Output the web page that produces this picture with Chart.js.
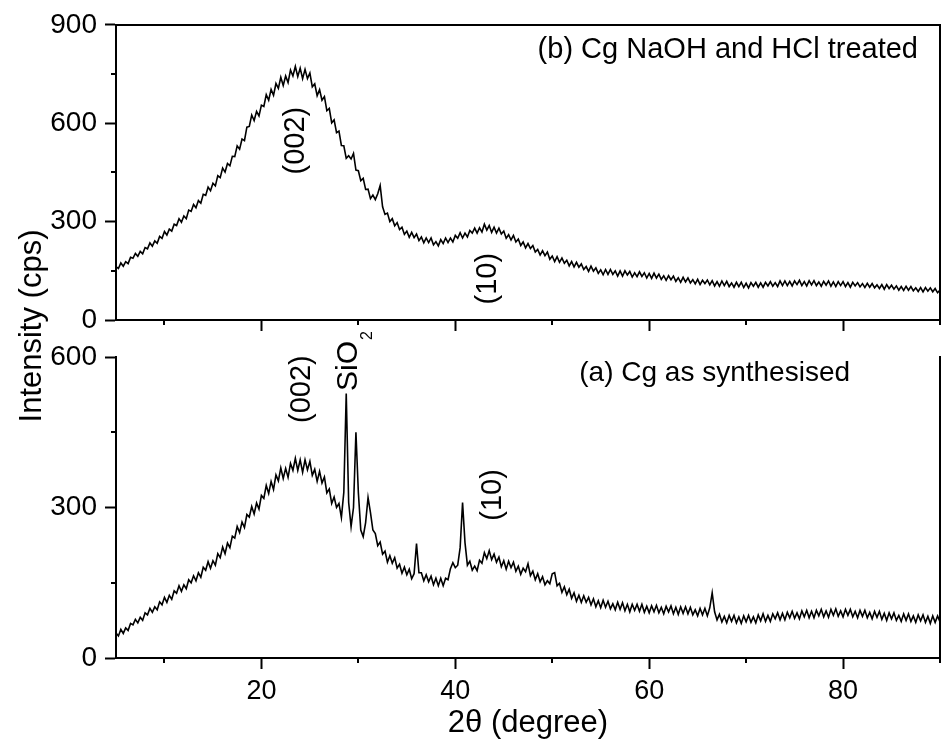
<!DOCTYPE html>
<html>
<head>
<meta charset="utf-8">
<script src="https://cdn.jsdelivr.net/npm/chart.js@4.4.1/dist/chart.umd.min.js"></script>
<style>
html,body{margin:0;padding:0;background:#fff;}
#wrap{position:relative;width:948px;height:741px;overflow:hidden;background:#fff;}
#wrap canvas{position:absolute;left:0;top:0;}
</style>
</head>
<body>
<div id="wrap">
<canvas id="cBottom" width="948" height="741"></canvas>
<canvas id="cTop" width="948" height="741"></canvas>
</div>
<script>
// ---- data (2θ sampled every 0.25° from 5° to 90°) ----
const angleStart = 5;
const angleStep = 0.25;

// (b) Cg NaOH and HCl treated  (top panel), one row per degree
const intensityB = [
163,157,174,164, 178,172,191,188, 203,194,209,202, 221,217,235,225, 241,234,255,249,
270,259,277,271, 292,288,309,298, 317,309,335,331, 352,342,364,356, 383,380,405,394,
417,409,440,434, 463,451,477,470, 499,498,531,521, 552,547,588,590, 625,608,636,622,
655,651,687,670, 703,685,721,706, 740,715,744,724, 762,744,773,742, 768,736,764,736,
753,711,720,684, 702,670,681,638, 645,601,610,571, 576,532,531,493, 501,491,508,457,
455,425,432,398, 399,370,381,367, 385,410,345,322, 326,300,309,287, 297,276,283,261,
271,252,267,251, 262,242,253,235, 250,236,250,229, 239,226,245,233, 250,236,250,238,
258,249,266,250, 265,253,273,265, 280,265,281,268, 292,274,288,267, 283,265,280,262,
271,249,260,244, 258,238,247,227, 238,220,233,218, 227,207,215,198, 211,196,207,185,
195,178,193,176, 189,173,182,165, 178,162,176,161, 171,154,163,148, 164,149,159,142,
153,138,154,139, 154,139,150,134, 150,134,150,137, 148,131,144,132, 147,133,144,128,
142,127,143,128, 140,124,135,121, 135,123,134,118, 129,115,130,116, 128,113,123,110,
124,108,121,111, 122,107,120,104, 117,103,119,105, 118,102,113,100, 115,102,115,99,
112,98,114,103, 115,100,113,100, 115,104,117,103, 114,102,119,105, 119,105,118,104,
119,108,121,105, 117,104,120,107, 120,105,116,103, 118,106,119,103, 116,102,117,105,
117,102,114,100, 115,104,114,101, 111,99,112,100, 111,98,107,96, 108,94,108,96,
106,94,104,91, 102,90,103,91, 102,89,98,87, 99,86,99,88, 98,86,96,83,
91
];

// (a) Cg as synthesised  (bottom panel), one row per degree
const intensityA = [
50,44,57,49, 60,55,69,66, 77,70,81,75, 90,86,99,91, 102,96,112,106,
121,111,125,117, 134,129,144,133, 146,138,156,150, 164,154,170,161, 181,175,192,179,
194,185,208,200, 221,208,229,220, 243,239,262,250, 271,260,286,281, 302,287,309,297,
324,318,344,328, 352,336,365,353, 379,358,378,360, 388,374,398,374, 395,370,395,375,
392,364,376,352, 372,349,361,329, 337,308,321,300, 308,280,330,527, 310,262,300,450,
330,255,242,270, 320,290,255,248, 224,231,207,213, 191,204,189,200, 179,187,169,181,
166,177,158,168, 228,170,170,154, 166,152,163,146, 159,144,159,144, 159,156,178,190,
180,185,220,310, 230,185,193,175, 183,174,195,189, 210,198,214,196, 207,191,201,182,
194,177,193,180, 191,173,183,167, 179,172,188,164, 173,156,168,152, 162,146,154,148,
168,170,144,149, 131,142,126,137, 119,130,113,125, 111,124,111,121, 106,118,102,114,
100,115,101,113, 98,108,96,111, 97,110,94,107, 92,107,95,107, 93,107,91,103,
90,104,92,105, 90,101,88,103, 92,104,88,101, 87,102,89,102, 88,101,86,96,
84,99,86,99, 84,100,130,92, 76,87,72,83, 70,85,73,85, 70,82,69,84,
72,85,71,82, 70,86,74,88, 73,85,73,88, 78,90,76,89, 76,91,80,93,
79,90,78,94, 82,95,80,93, 80,95,84,97, 82,94,81,97, 85,98,83,94,
82,97,85,97, 82,93,80,95, 83,95,80,91, 78,93,81,93, 77,89,75,90,
78,90,75,85, 73,88,75,88, 73,84,71,86, 74,86,71,83, 69,84,71,84,
72
];

const xMajorTicks = [20, 40, 60, 80];
const xMinorTicks = [10, 30, 50, 70, 90];
const yMajorTicksB = [0, 300, 600, 900];
const yMinorTicksB = [150, 450, 750];
const yMajorTicksA = [0, 300, 600];
const yMinorTicksA = [150, 450];

const labelB = '(b) Cg NaOH and HCl treated';
const labelA = '(a) Cg as synthesised';
const xTitle = '2\u03B8 (degree)';
const yTitle = 'Intensity (cps)';

// ---- helpers ----
const FONT = '"Liberation Sans", Arial, Helvetica, sans-serif';
const toPoints = arr => arr.map((v, i) => ({x: angleStart + i * angleStep, y: v}));
const setTicks = list => (s => { s.ticks = list.map(v => ({value: v})); });

const minorTicks = {
  id: 'minorTicks',
  afterDraw(chart, args, opts) {
    const ctx = chart.ctx, a = chart.chartArea;
    const xs = chart.scales.x, ys = chart.scales.y;
    ctx.save();
    ctx.strokeStyle = '#000';
    ctx.lineWidth = 2;
    (opts.x || []).forEach(v => {
      const px = Math.round(xs.getPixelForValue(v));
      ctx.beginPath(); ctx.moveTo(px, a.bottom); ctx.lineTo(px, a.bottom + 5); ctx.stroke();
    });
    (opts.y || []).forEach(v => {
      const py = Math.round(ys.getPixelForValue(v));
      ctx.beginPath(); ctx.moveTo(a.left, py); ctx.lineTo(a.left - 5, py); ctx.stroke();
    });
    ctx.restore();
  }
};

const textNotes = {
  id: 'textNotes',
  afterDraw(chart, args, opts) {
    const ctx = chart.ctx;
    const xs = chart.scales.x, ys = chart.scales.y;
    ctx.save();
    ctx.fillStyle = '#000';
    (opts.items || []).forEach(it => {
      const px = it.abs ? it.x : xs.getPixelForValue(it.x);
      const py = it.abs ? it.y : ys.getPixelForValue(it.y);
      ctx.save();
      ctx.translate(px, py);
      if (it.rot) ctx.rotate(-Math.PI / 2);
      ctx.font = it.size + 'px ' + FONT;
      ctx.textBaseline = 'middle';
      ctx.textAlign = it.align || 'center';
      ctx.fillText(it.text, 0, 0);
      if (it.sub) {
        const w = ctx.measureText(it.text).width;
        ctx.font = it.subSize + 'px ' + FONT;
        ctx.textAlign = 'left';
        ctx.fillText(it.sub, w / 2 + 1, it.subOffset);
      }
      ctx.restore();
    });
    ctx.restore();
  }
};

function xScale(showLabels, height, withTitle) {
  return {
    type: 'linear', position: 'bottom', min: 5, max: 90,
    afterBuildTicks: setTicks(xMajorTicks),
    afterFit: s => { s.height = height; },
    grid: {display: true, drawOnChartArea: false, drawTicks: true, tickLength: 11, tickWidth: 2, tickColor: '#000'},
    border: {display: true, color: '#000', width: 2},
    ticks: {display: showLabels, color: '#000', padding: 6, maxRotation: 0, font: {family: FONT, size: 27}},
    title: withTitle ? {display: true, text: xTitle, color: '#000', font: {family: FONT, size: 31, lineHeight: 1}, padding: {top: 0, bottom: 2}} : {display: false}
  };
}
function yScale(max, ticks) {
  return {
    type: 'linear', position: 'left', min: 0, max: max,
    afterBuildTicks: setTicks(ticks),
    afterFit: s => { s.width = 116; },
    grid: {display: true, drawOnChartArea: false, drawTicks: true, tickLength: 11, tickWidth: 2, tickColor: '#000'},
    border: {display: true, color: '#000', width: 2},
    ticks: {color: '#000', padding: 8, font: {family: FONT, size: 28}}
  };
}
const frameScale = (pos, max) => ({
  type: 'linear', position: pos, min: pos === 'top' ? 5 : 0, max: max,
  afterFit: s => { if (pos === 'top') s.height = 0; else s.width = 0; },
  grid: {display: false, drawTicks: false},
  border: {display: true, color: '#000', width: 2},
  ticks: {display: false}
});

const lineDataset = (arr, name) => ({
  label: name, data: toPoints(arr), xAxisID: 'x', yAxisID: 'y',
  borderColor: '#000', borderWidth: 1.6, pointRadius: 0, tension: 0, fill: false
});

// ---- top panel (b) ----
new Chart(document.getElementById('cTop'), {
  type: 'line',
  data: {datasets: [lineDataset(intensityB, labelB)]},
  options: {
    responsive: false, animation: false, events: [],
    layout: {padding: {top: 19, right: 8, bottom: 401, left: 0}},
    scales: {
      x: xScale(false, 20, false),
      y: yScale(900, yMajorTicksB),
      xTop: frameScale('top', 90),
      yRight: frameScale('right', 900)
    },
    plugins: {
      legend: {display: false}, tooltip: {enabled: false},
      minorTicks: {x: xMinorTicks, y: yMinorTicksB},
      textNotes: {items: [
        {text: labelB, x: 87.73, y: 822, size: 29, align: 'right'},
        {text: '(002)', x: 23.57, y: 547, size: 29, rot: true},
        {text: '(10)', x: 43.37, y: 126, size: 29, rot: true},
        {text: yTitle, x: 32, y: 326, size: 31, rot: true, abs: true}
      ]}
    }
  },
  plugins: [minorTicks, textNotes]
});

// ---- bottom panel (a) ----
new Chart(document.getElementById('cBottom'), {
  type: 'line',
  data: {datasets: [lineDataset(intensityA, labelA)]},
  options: {
    responsive: false, animation: false, events: [],
    layout: {padding: {top: 357, right: 8, bottom: 0, left: 0}},
    scales: {
      x: xScale(true, 83, true),
      y: yScale(600, yMajorTicksA),
      yRight: frameScale('right', 600)
    },
    plugins: {
      legend: {display: false}, tooltip: {enabled: false},
      minorTicks: {x: xMinorTicks, y: yMinorTicksA},
      textNotes: {items: [
        {text: labelA, x: 80.72, y: 568, size: 28, align: 'right'},
        {text: '(002)', x: 24.19, y: 536, size: 29, rot: true},
        {text: 'SiO', x: 29.04, y: 582, size: 30, rot: true, sub: '2', subSize: 16, subOffset: 19},
        {text: '(10)', x: 43.89, y: 325, size: 29, rot: true}
      ]}
    }
  },
  plugins: [minorTicks, textNotes]
});
</script>
</body>
</html>
